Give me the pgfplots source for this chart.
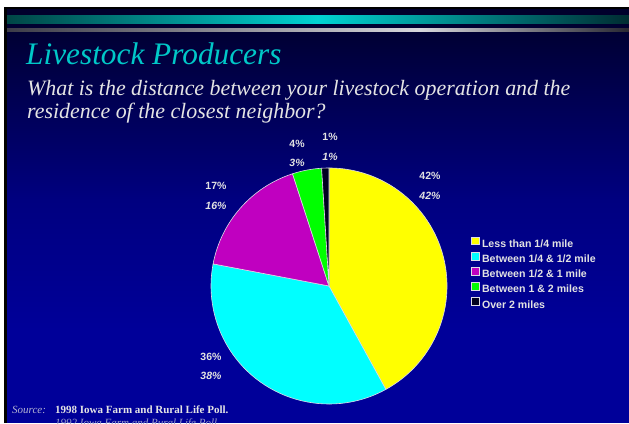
\documentclass[border=0pt]{standalone}
\usepackage{fontspec}
\setmainfont{Liberation Serif}
\newfontfamily\arialfont{Liberation Sans}
\usepackage{pgfplots}
\usepackage{pgfplotstable}
\pgfplotsset{compat=1.18}
\definecolor{bgA}{RGB}{0,0,44}
\definecolor{bgB}{RGB}{0,0,128}
\definecolor{bgC}{RGB}{0,0,153}
\definecolor{tealL}{RGB}{0,70,70}
\definecolor{tealM}{RGB}{0,210,210}
\definecolor{tealR}{RGB}{0,45,50}
\definecolor{grayL}{RGB}{60,60,72}
\definecolor{grayM}{RGB}{215,215,220}
\definecolor{grayR}{RGB}{40,40,50}
\definecolor{titlecol}{RGB}{0,200,200}
\definecolor{subcol}{RGB}{228,228,228}
\definecolor{labcol}{RGB}{226,226,226}
\definecolor{sYellow}{RGB}{255,255,0}
\definecolor{sCyan}{RGB}{0,255,255}
\definecolor{sMagenta}{RGB}{192,0,192}
\definecolor{sGreen}{RGB}{0,255,0}
\definecolor{sBlack}{RGB}{0,0,32}
\definecolor{edgecol}{RGB}{220,220,230}

\pgfplotstableread{
slice p98 p92
1 42 42
2 36 38
3 17 16
4 4 3
5 1 1
}\piedata

\begin{document}
\begin{tikzpicture}[x=1pt,y=1pt]
\clip (0,0) rectangle (629,423);
\fill[white] (0,0) rectangle (629,423);
\fill[black] (4,0) rectangle (629,416);
% background gradient
\fill[bgA] (7,408) rectangle (629,414);
\shade[top color=bgA, bottom color=bgB] (7,223) rectangle (629,408.2);
\shade[top color=bgB, bottom color=bgC] (7,93) rectangle (629,223.2);
\fill[bgC] (7,0) rectangle (629,93.2);
% stripes
\shade[left color=tealL, right color=tealM] (7,399) rectangle (318,407);
\shade[left color=tealM, right color=tealR] (317.8,399) rectangle (629,407);
\shade[left color=grayL, right color=grayM] (7,391) rectangle (420,394.5);
\shade[left color=grayM, right color=grayR] (419.8,391) rectangle (629,394.5);
% title
\node[anchor=base west, inner sep=0, text=titlecol, font=\fontsize{31.3}{36}\selectfont\itshape] at (26,358) {Livestock Producers};
\node[anchor=base west, inner sep=0, text=subcol, font=\fontsize{21.9}{25}\selectfont\itshape] at (27,327) {What is the distance between your livestock operation and the};
\node[anchor=base west, inner sep=0, text=subcol, font=\fontsize{21.9}{25}\selectfont\itshape] at (27,304) {residence of the closest neighbor?};
% source
\node[anchor=base west, inner sep=0, text=labcol!80!bgC, font=\fontsize{11}{13}\selectfont\itshape] at (12,10) {Source:};
\node[anchor=base west, inner sep=0, text=subcol, font=\fontsize{11}{13}\selectfont\bfseries] at (55,10) {1998 Iowa Farm and Rural Life Poll.};
\node[anchor=base west, inner sep=0, text=labcol!70!bgC, font=\fontsize{11}{13}\selectfont\itshape] at (55,-3.5) {1992 Iowa Farm and Rural Life Poll.};

\begin{axis}[
  at={(329pt,137pt)}, anchor=origin,
  x=118pt, y=118pt,
  xmin=-1, xmax=1, ymin=-1, ymax=1,
  hide axis, clip=false,
  legend cell align=left,
  legend image code/.code={\draw[#1, draw=edgecol, line width=0.5pt] (0pt,-0.3pt) rectangle (7.5pt,7.5pt);},
  legend style={at={(1.1017,0.709)}, anchor=north west, draw=none, fill=none,
    inner sep=0pt, outer sep=0pt,
    font=\arialfont\bfseries\fontsize{10.6}{12}\selectfont, text=labcol,
    nodes={inner sep=0pt, text height=7.7pt, text depth=2pt},
    row sep=2.6pt, column sep=3pt},
]
\pgfplotsextra{
  \xdef\pieA{90}
  \foreach \i/\col in {0/sYellow,1/sCyan,2/sMagenta,3/sGreen,4/sBlack}{
    \pgfplotstablegetelem{\i}{p98}\of\piedata
    \pgfmathsetmacro\pieB{\pieA-3.6*\pgfplotsretval}
    \filldraw[fill=\col, draw=edgecol, line width=0.6pt, line join=round]
      (axis cs:0,0) -- ++(\pieA:118pt) arc[start angle=\pieA, end angle=\pieB, radius=118pt] -- cycle;
    \xdef\pieA{\pieB}
  }
}
\addlegendimage{fill=sYellow}\addlegendentry{Less than 1/4 mile}
\addlegendimage{fill=sCyan}\addlegendentry{Between 1/4 \& 1/2 mile}
\addlegendimage{fill=sMagenta}\addlegendentry{Between 1/2 \& 1 mile}
\addlegendimage{fill=sGreen}\addlegendentry{Between 1 \& 2 miles}
\addlegendimage{fill=sBlack}\addlegendentry{Over 2 miles}
\end{axis}

% percentage labels (1998 upright, 1992 italic)
\begin{scope}[every node/.style={text=labcol, inner sep=0, font=\arialfont\bfseries\fontsize{10.5}{12}\selectfont}]
\node at (430,247.5) {42\%};
\node[font=\arialfont\bfseries\itshape\fontsize{10.5}{12}\selectfont] at (430,227.5) {42\%};
\node at (216,237.5) {17\%};
\node[font=\arialfont\bfseries\itshape\fontsize{10.5}{12}\selectfont] at (216,217.5) {16\%};
\node at (297,279) {4\%};
\node[font=\arialfont\bfseries\itshape\fontsize{10.5}{12}\selectfont] at (297,260) {3\%};
\node at (330,286) {1\%};
\node[font=\arialfont\bfseries\itshape\fontsize{10.5}{12}\selectfont] at (330,266) {1\%};
\node at (211,66) {36\%};
\node[font=\arialfont\bfseries\itshape\fontsize{10.5}{12}\selectfont] at (211,47) {38\%};
\end{scope}
\end{tikzpicture}
\end{document}
